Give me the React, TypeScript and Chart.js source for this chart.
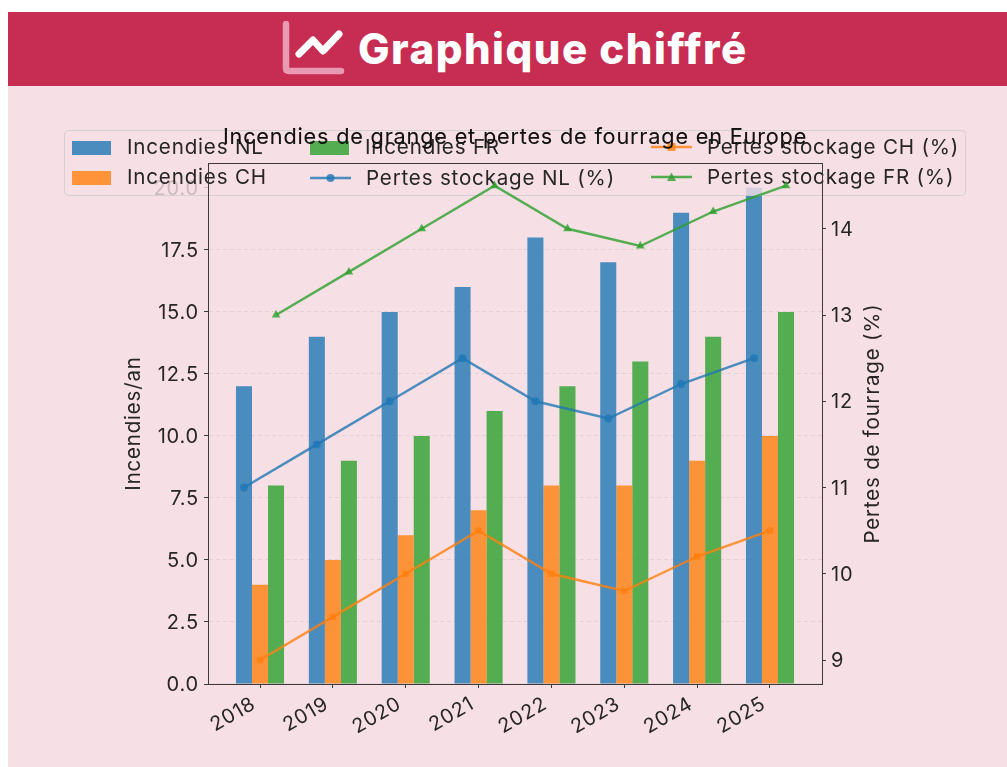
import React, { useEffect, useRef } from "react";
import { Chart, registerables } from "chart.js";

Chart.register(...registerables);

const years = ["2018", "2019", "2020", "2021", "2022", "2023", "2024", "2025"];
const firesNL = [12, 14, 15, 16, 18, 17, 19, 20];
const firesCH = [4, 5, 6, 7, 8, 8, 9, 10];
const firesFR = [8, 9, 10, 11, 12, 13, 14, 15];
const lossNL = [11, 11.5, 12, 12.5, 12, 11.8, 12.2, 12.5];
const lossCH = [9, 9.5, 10, 10.5, 10, 9.8, 10.2, 10.5];
const lossFR = [13, 13.5, 14, 14.5, 14, 13.8, 14.2, 14.5];
const rightTitle = "Pertes de fourrage (%)";

const FONT = "Inter, sans-serif";
const TEXT = "#262626";
const SPACING = "0.8px";
const BAR_W = 0.22;
const BLUE = "rgba(31,119,180,0.8)";
const ORANGE = "rgba(255,127,14,0.8)";
const GREEN = "rgba(44,160,44,0.8)";

const series = (vals: number[], off: number) => vals.map((y, i) => ({ x: i + off, y }));

const layerPlugin = {
  id: "layers",
  beforeDraw(chart: any) {
    chart.ctx.letterSpacing = SPACING;
  },
  afterDatasetDraw(chart: any, args: any) {
    if (args.index !== 0) return;
    const ctx = chart.ctx;
    const dx = 8, dy = 86;
    ctx.save();
    ctx.beginPath();
    ctx.roundRect(64.5 - dx, 130.5 - dy, 901, 65, 4);
    ctx.fillStyle = "rgba(246,223,229,0.8)";
    ctx.fill();
    ctx.strokeStyle = "rgba(204,204,204,0.8)";
    ctx.lineWidth = 1;
    ctx.stroke();
    const slots = [
      [72, 148], [72, 178], [310, 148], [310, 178], [651, 147], [651, 177],
    ];
    const ds = chart.data.datasets;
    ctx.font = "20.6px " + FONT;
    ctx.textBaseline = "middle";
    ctx.textAlign = "left";
    ds.forEach((d: any, i: number) => {
      const [x0, y0] = slots[i];
      const x = x0 - dx, y = y0 - dy;
      const isBar = i < 3;
      const sw = isBar ? 39 : 41;
      if (isBar) {
        ctx.fillStyle = d.backgroundColor;
        ctx.fillRect(x, y - 7, sw, 14);
      } else {
        ctx.strokeStyle = d.borderColor;
        ctx.lineWidth = 2.4;
        ctx.beginPath();
        ctx.moveTo(x, y);
        ctx.lineTo(x + sw, y);
        ctx.stroke();
        ctx.fillStyle = d.borderColor;
        const cx = x + sw / 2;
        ctx.beginPath();
        if (d.pointStyle === "circle") ctx.arc(cx, y, 4, 0, Math.PI * 2);
        else if (d.pointStyle === "rect") ctx.rect(cx - 4, y - 4, 8, 8);
        else { ctx.moveTo(cx, y - 4.5); ctx.lineTo(cx + 4.5, y + 4); ctx.lineTo(cx - 4.5, y + 4); ctx.closePath(); }
        ctx.fill();
      }
      ctx.fillStyle = TEXT;
      ctx.fillText(d.label, x + (isBar ? 55 : 56), isBar ? y : y + 1);
    });
    const a = chart.chartArea;
    ctx.strokeStyle = "#3a3a3a";
    ctx.lineWidth = 1;
    ctx.strokeRect(Math.round(a.left) + 0.5, Math.round(a.top) + 0.5, a.right - a.left, a.bottom - a.top);
    ctx.restore();
  },
  afterDatasetsDraw(chart: any) {
    const ctx = chart.ctx;
    chart.titleBlock.draw(ctx);
    const a = chart.chartArea;
    ctx.save();
    ctx.translate(865, (a.top + a.bottom) / 2);
    ctx.rotate(-Math.PI / 2);
    ctx.font = "20.5px " + FONT;
    ctx.fillStyle = TEXT;
    ctx.textAlign = "center";
    ctx.textBaseline = "middle";
    ctx.fillText(rightTitle, 0, 0);
    ctx.restore();
  },
};

export default function App() {
  const ref = useRef<HTMLCanvasElement>(null);
  useEffect(() => {
    const tick = { color: TEXT, font: { family: FONT, size: 20 } };
    const gridBase = { tickColor: "#3a3a3a", tickLength: 4, tickWidth: 1, tickBorderDash: [] };
    const line = (label: string, vals: number[], off: number, color: string, pointStyle: string, r: number) => ({
      type: "line", label, data: series(vals, off), borderColor: color, backgroundColor: color,
      borderWidth: 2.4, pointStyle, pointRadius: r, pointBorderWidth: 0, pointBackgroundColor: color,
      yAxisID: "y2", order: 1, tension: 0,
    });
    const bar = (label: string, vals: number[], color: string) => ({
      type: "bar", label, data: series(vals, 0), backgroundColor: color, borderWidth: 0,
      yAxisID: "y", order: 2, barPercentage: 1, categoryPercentage: 3 * BAR_W,
    });
    const chart = new Chart(ref.current as HTMLCanvasElement, {
      type: "bar",
      data: {
        datasets: [
          bar("Incendies NL", firesNL, BLUE),
          bar("Incendies CH", firesCH, ORANGE),
          bar("Incendies FR", firesFR, GREEN),
          line("Pertes stockage NL (%)", lossNL, -BAR_W, BLUE, "circle", 4),
          line("Pertes stockage CH (%)", lossCH, 0, ORANGE, "rect", 4.5),
          line("Pertes stockage FR (%)", lossFR, BAR_W, GREEN, "triangle", 5),
        ] as any,
      },
      options: {
        animation: false,
        responsive: false,
        layout: { padding: 0 },
        plugins: {
          legend: { display: false },
          tooltip: { enabled: false },
          title: {
            display: true,
            text: "Incendies de grange et pertes de fourrage en Europe",
            color: "#111",
            fullSize: false,
            font: { family: FONT, size: 21.7, weight: "normal" },
            padding: { top: 38, bottom: 13 },
          },
        },
        scales: {
          x: {
            type: "linear",
            min: -0.714,
            max: 7.714,
            offset: false,
            afterFit: (s: any) => { s.height = 83; },
            grid: { ...gridBase, offset: false, drawOnChartArea: false },
            border: { color: "#3a3a3a" },
            ticks: {
              ...tick,
              stepSize: 1,
              includeBounds: false,
              autoSkip: false,
              minRotation: 30,
              maxRotation: 30,
              padding: 4,
              labelOffset: -6,
              callback: (v: any) => years[v] ?? "",
            },
          },
          y: {
            position: "left",
            min: 0,
            max: 21,
            afterFit: (s: any) => { s.width = 200; },
            grid: { ...gridBase, color: "rgba(128,128,128,0.16)" },
            border: { color: "#3a3a3a", dash: [4, 3] },
            ticks: { ...tick, stepSize: 2.5, includeBounds: false, padding: 5, labelOffset: 1, callback: (v: any) => Number(v).toFixed(1) },
            title: { display: true, text: "Incendies/an", color: TEXT, font: { family: FONT, size: 20.5 }, padding: { top: 114, bottom: 0 } },
          },
          y2: {
            position: "right",
            min: 8.722,
            max: 14.762,
            afterFit: (s: any) => { s.width = 185; },
            grid: { ...gridBase, drawOnChartArea: false },
            border: { color: "#3a3a3a" },
            ticks: { ...tick, stepSize: 1, includeBounds: false, padding: 5, labelOffset: 1 },
          },
        },
      } as any,
      plugins: [layerPlugin],
    });
    return () => chart.destroy();
  }, []);

  return (
    <div style={{ position: "absolute", left: 8, top: 12, width: 999, height: 755, background: "#f6dfe5" }}>
      <div style={{ height: 74, background: "#c72c52", position: "relative" }}>
        <svg width={64} height={56} viewBox="0 0 64 56" style={{ position: "absolute", left: 274, top: 9 }}>
          <path d="M4 3 V47 Q4 50 7 50 H59" fill="none" stroke="#e79ab0" strokeWidth={6.5} strokeLinecap="round" />
          <path d="M17 33 L31 19 L41 30 L57 13" fill="none" stroke="#fff" strokeWidth={7} strokeLinecap="round" strokeLinejoin="round" />
        </svg>
        <div style={{ position: "absolute", left: 350, top: 10, fontFamily: FONT, fontWeight: 800, fontSize: 42, letterSpacing: "1.5px", lineHeight: "54px", color: "#fff", whiteSpace: "nowrap" }}>
          Graphique chiffré
        </div>
      </div>
      <canvas ref={ref} width={999} height={681} style={{ display: "block" }} />
    </div>
  );
}
